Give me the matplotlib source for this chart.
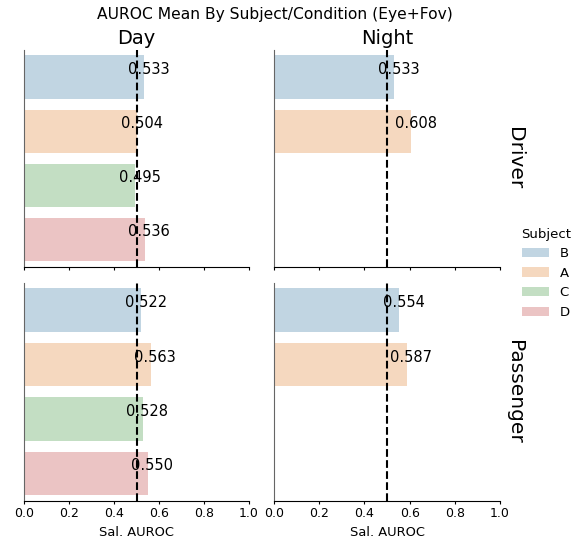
import matplotlib
matplotlib.use("Agg")
import matplotlib.pyplot as plt
from matplotlib.patches import Patch
import matplotlib.colors as mcolors
import colorsys
import numpy as np

subjects = ["B", "A", "C", "D"]
base_colors = ["#1f77b4", "#ff7f0e", "#2ca02c", "#d62728"]
conditions = ["Day", "Night"]
roles = ["Driver", "Passenger"]

driver_day = [0.533, 0.504, 0.495, 0.536]
driver_night = [0.533, 0.608, None, None]
passenger_day = [0.522, 0.563, 0.528, 0.550]
passenger_night = [0.554, 0.587, None, None]

data = {
    ("Driver", "Day"): driver_day,
    ("Driver", "Night"): driver_night,
    ("Passenger", "Day"): passenger_day,
    ("Passenger", "Night"): passenger_night,
}

chance = 0.5


def desaturate(c, prop=0.75):
    r, g, b = mcolors.to_rgb(c)
    h, l, s = colorsys.rgb_to_hls(r, g, b)
    return colorsys.hls_to_rgb(h, l, s * prop)


colors = [desaturate(c) for c in base_colors]

fig = plt.figure(figsize=(5.74, 5.41), dpi=100)
W, H = 574, 541


def ax_at(x0, x1, ytop, ybot):
    return fig.add_axes([x0 / W, 1 - ybot / H, (x1 - x0) / W, (ybot - ytop) / H])


lefts = [(24, 249), (274, 500)]
rows = [(50, 266.5), (283, 500.5)]
ticks = np.arange(0, 1.01, 0.2)

for r, role in enumerate(roles):
    for c, cond in enumerate(conditions):
        ax = ax_at(lefts[c][0], lefts[c][1], rows[r][0], rows[r][1])
        vals = data[(role, cond)]
        for i, v in enumerate(vals):
            if v is None:
                continue
            ax.barh(i, v, height=0.8, color=colors[i], alpha=0.3, linewidth=0)
            ax.text(v + 0.02, i, f"{v:.3f}", ha="center", va="bottom", fontsize=10.5)
        ax.axvline(chance, color="black", linestyle="--", linewidth=1.5)
        ax.set_xlim(0, 1)
        ax.set_ylim(len(subjects) - 0.5, -0.5)
        ax.set_yticks([])
        ax.spines["top"].set_visible(False)
        ax.spines["right"].set_visible(False)
        ax.spines["left"].set_color("#666666")
        ax.set_xticks(ticks)
        ax.tick_params(axis="x", length=2.5, pad=2.5, labelsize=9)
        if r == 0:
            ax.set_title(cond, fontsize=14, pad=4)
            ax.tick_params(axis="x", labelbottom=False)
        else:
            ax.set_xlabel("Sal. AUROC", fontsize=9.4, labelpad=4)
            ax.set_xticklabels([f"{t:.1f}" for t in ticks])
        if c == 1:
            ax.text(1.022, 0.5, role, transform=ax.transAxes, rotation=270,
                    ha="left", va="center", fontsize=14.5)

fig.suptitle("AUROC Mean By Subject/Condition (Eye+Fov)", fontsize=11.2,
             x=0.479, y=0.987)

handles = [Patch(facecolor=col, alpha=0.3, edgecolor="none") for col in colors]
fig.legend(handles, subjects, title="Subject", loc="center left",
           bbox_to_anchor=(0.887, 0.495), frameon=False, fontsize=9.5,
           title_fontsize=9.5)

fig.savefig("out.png", dpi=100)
